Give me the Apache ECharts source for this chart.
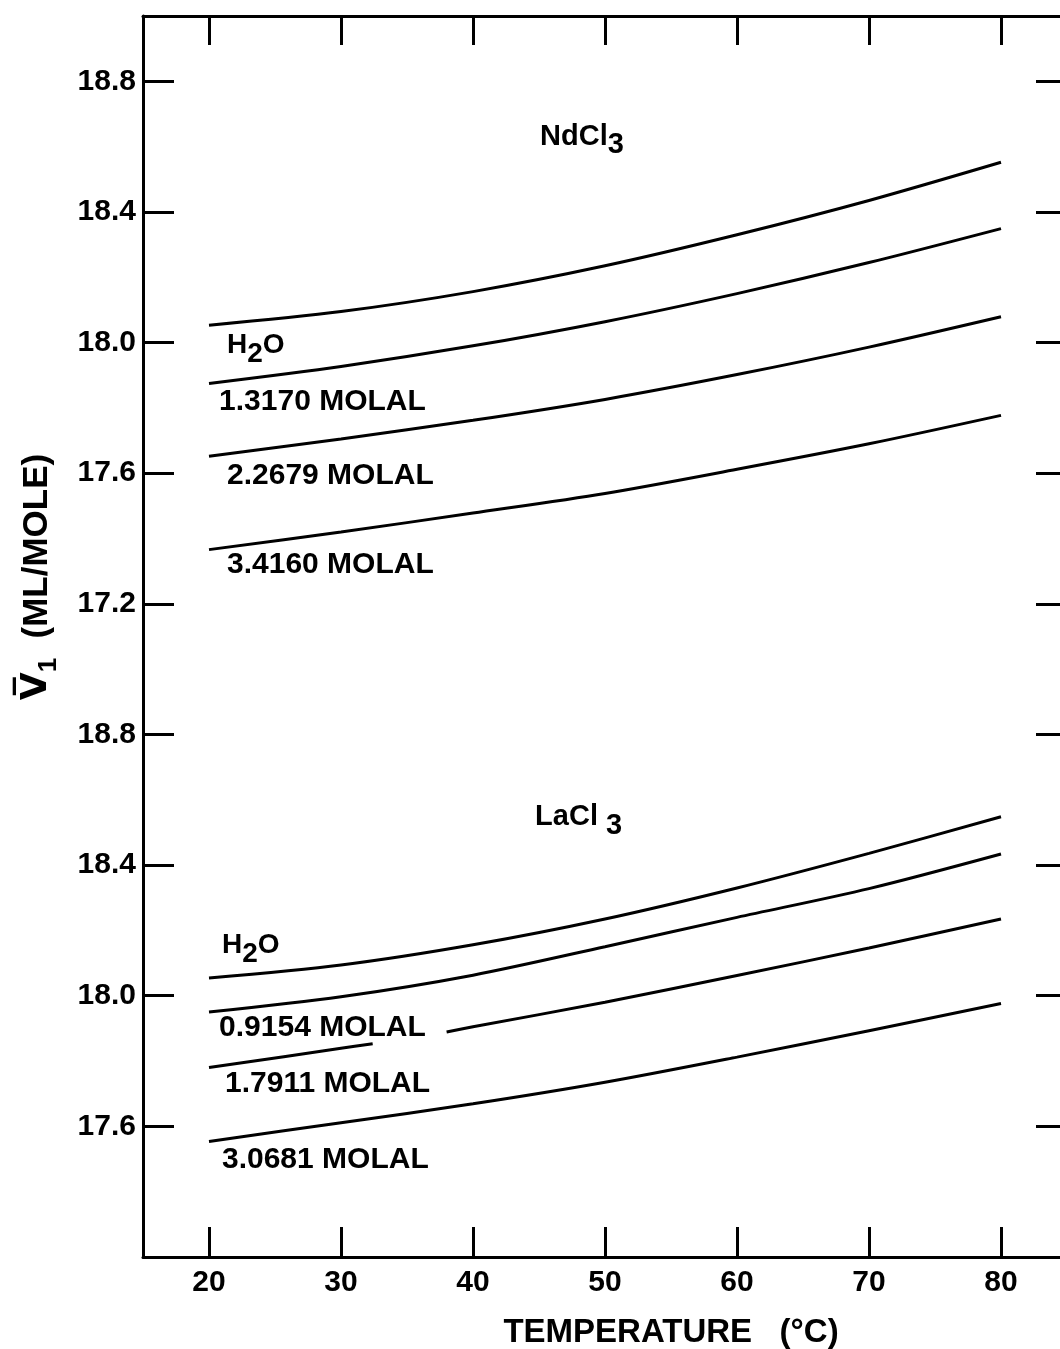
<!DOCTYPE html>
<html>
<head>
<meta charset="utf-8">
<script src="https://cdn.jsdelivr.net/npm/echarts@6/dist/echarts.min.js"></script>
<style>
html,body{margin:0;padding:0;background:#fff;}
#chart{width:1060px;height:1349px;}
</style>
</head>
<body>
<div id="chart"></div>
<script>
// ---- data ----
const temperatures = [20, 30, 40, 50, 60, 70, 80];
const xTickLabels = ['20', '30', '40', '50', '60', '70', '80'];
const upperTickLabels = ['17.2', '17.6', '18.0', '18.4', '18.8'];
const lowerTickLabels = ['17.6', '18.0', '18.4', '18.8'];
const PANEL_OFFSET = 2.0; // upper (NdCl3) panel is stacked 2.0 units above the lower (LaCl3) panel

// NdCl3 panel (ml/mole)
const ndH2O   = [18.053, 18.095, 18.156, 18.235, 18.330, 18.435, 18.552];
const nd13170 = [17.875, 17.927, 17.990, 18.064, 18.150, 18.245, 18.349];
const nd22679 = [17.652, 17.705, 17.762, 17.826, 17.902, 17.986, 18.079];
const nd34160 = [17.366, 17.420, 17.478, 17.538, 17.612, 17.690, 17.777];

// LaCl3 panel (ml/mole)
const laH2O   = [18.054, 18.094, 18.156, 18.235, 18.330, 18.436, 18.548];
const la09154 = [17.950, 17.997, 18.063, 18.150, 18.240, 18.328, 18.434];
const la17911T = [20, 30, 32.4, 35, 38, 40, 50, 60, 70, 80];
const la17911  = [17.780, 17.839, 17.853, null, 17.889, 17.905, 17.980, 18.062, 18.146, 18.235];
const la30681 = [17.554, 17.611, 17.669, 17.735, 17.812, 17.893, 17.976];

// ---- build chart ----
const FONT = 'Liberation Sans';
function curve(name, ts, vs, offset) {
  return {
    type: 'line', name: name, silent: true, symbol: 'none', smooth: 0.3,
    lineStyle: { color: '#000', width: 3 },
    data: ts.map((t, i) => [t, vs[i] == null ? null : vs[i] + offset]),
    z: 2
  };
}

const xTickValues = xTickLabels.map(Number);
const yTickValues = lowerTickLabels.map(Number).concat(upperTickLabels.map(s => Number(s) + PANEL_OFFSET));

const annotations = [
  { t: 45.08, v: 18.630 + PANEL_OFFSET, text: '{c|NdCl}{cs|3}' },
  { t: 21.36, v: 17.993 + PANEL_OFFSET, text: '{h|H}{hs|2}{h|O}' },
  { t: 20.76, v: 17.818 + PANEL_OFFSET, text: '{m|1.3170 MOLAL}' },
  { t: 21.36, v: 17.592 + PANEL_OFFSET, text: '{m|2.2679 MOLAL}' },
  { t: 21.36, v: 17.319 + PANEL_OFFSET, text: '{m|3.4160 MOLAL}' },
  { t: 44.70, v: 18.547, text: '{c|LaCl}{cs| 3}' },
  { t: 20.98, v: 18.156, text: '{h|H}{hs|2}{h|O}' },
  { t: 20.76, v: 17.901, text: '{m|0.9154 MOLAL}' },
  { t: 21.21, v: 17.730, text: '{m|1.7911 MOLAL}' },
  { t: 20.98, v: 17.497, text: '{m|3.0681 MOLAL}' }
];

const chart = echarts.init(document.getElementById('chart'), null, { renderer: 'canvas' });
const axisLine = { show: true, onZero: false, lineStyle: { color: '#000', width: 3 } };
const tickStyle = { color: '#000', width: 3 };
const tok = (size, lh, extra) => Object.assign({ fontFamily: FONT, fontWeight: 'bold', fontSize: size, lineHeight: lh, color: '#000' }, extra || {});

chart.setOption({
  animation: false,
  backgroundColor: '#fff',
  grid: { left: 143, top: 16, width: 924, height: 1241, containLabel: false, outerBoundsMode: 'none' },
  xAxis: [
    {
      type: 'value', position: 'bottom', min: 15, max: 85,
      axisLine: axisLine,
      axisTick: { show: true, inside: true, length: 30, lineStyle: tickStyle, customValues: xTickValues },
      axisLabel: { show: true, margin: 11, color: '#000', fontFamily: FONT, fontWeight: 'bold', fontSize: 30, customValues: xTickValues },
      splitLine: { show: false }
    },
    {
      type: 'value', position: 'top', min: 15, max: 85,
      axisLine: axisLine,
      axisTick: { show: true, inside: true, length: 29, lineStyle: tickStyle, customValues: xTickValues },
      axisLabel: { show: false },
      splitLine: { show: false }
    }
  ],
  yAxis: [
    {
      type: 'value', position: 'left', min: 17.2, max: 21.0,
      axisLine: axisLine,
      axisTick: { show: true, inside: true, length: 31, lineStyle: tickStyle, customValues: yTickValues },
      axisLabel: {
        show: true, margin: 7, color: '#000', fontFamily: FONT, fontWeight: 'bold', fontSize: 30, customValues: yTickValues,
        formatter: v => (v > 19.0 ? v - PANEL_OFFSET : v).toFixed(1)
      },
      splitLine: { show: false }
    },
    {
      type: 'value', position: 'right', min: 17.2, max: 21.0,
      axisLine: axisLine,
      axisTick: { show: true, inside: true, length: 31, lineStyle: tickStyle, customValues: yTickValues },
      axisLabel: { show: false },
      splitLine: { show: false }
    }
  ],
  graphic: [
    {
      type: 'text', x: 671, y: 1333, silent: true,
      style: { text: 'TEMPERATURE   (°C)', fill: '#000', font: 'bold 33px "Liberation Sans"', align: 'center', verticalAlign: 'middle' }
    },
    {
      type: 'text', x: 37, y: 577, rotation: Math.PI / 2, silent: true,
      style: {
        text: '{v|V\u0305}{s|1}{t|  (ML/MOLE)}', fill: '#000', align: 'center', verticalAlign: 'middle',
        rich: {
          v: { fontFamily: 'DejaVu Sans', fontWeight: 'bold', fontSize: 36, lineHeight: 50, fill: '#000' },
          s: { fontFamily: FONT, fontWeight: 'bold', fontSize: 26, lineHeight: 20, verticalAlign: 'bottom', fill: '#000' },
          t: { fontFamily: FONT, fontWeight: 'bold', fontSize: 35, lineHeight: 50, fill: '#000' }
        }
      }
    }
  ],
  series: [
    curve('NdCl3 H2O', temperatures, ndH2O, PANEL_OFFSET),
    curve('NdCl3 1.3170', temperatures, nd13170, PANEL_OFFSET),
    curve('NdCl3 2.2679', temperatures, nd22679, PANEL_OFFSET),
    curve('NdCl3 3.4160', temperatures, nd34160, PANEL_OFFSET),
    curve('LaCl3 H2O', temperatures, laH2O, 0),
    curve('LaCl3 0.9154', temperatures, la09154, 0),
    curve('LaCl3 1.7911', la17911T, la17911, 0),
    curve('LaCl3 3.0681', temperatures, la30681, 0),
    {
      type: 'scatter', silent: true, symbolSize: 0.1, itemStyle: { color: 'rgba(0,0,0,0)' }, z: 5,
      data: annotations.map(a => ({ value: [a.t, a.v], label: { formatter: a.text } })),
      label: {
        show: true, position: 'right', distance: 0, color: '#000', opacity: 1,
        fontFamily: FONT, fontWeight: 'bold', fontSize: 30, textBorderWidth: 0,
        rich: {
          m: tok(30, 46),
          h: tok(28, 46),
          hs: tok(28, 20, { verticalAlign: 'bottom' }),
          c: tok(29, 46),
          cs: tok(29, 20, { verticalAlign: 'bottom' })
        }
      },
      labelLayout: { hideOverlap: false }
    }
  ]
});
</script>
</body>
</html>
